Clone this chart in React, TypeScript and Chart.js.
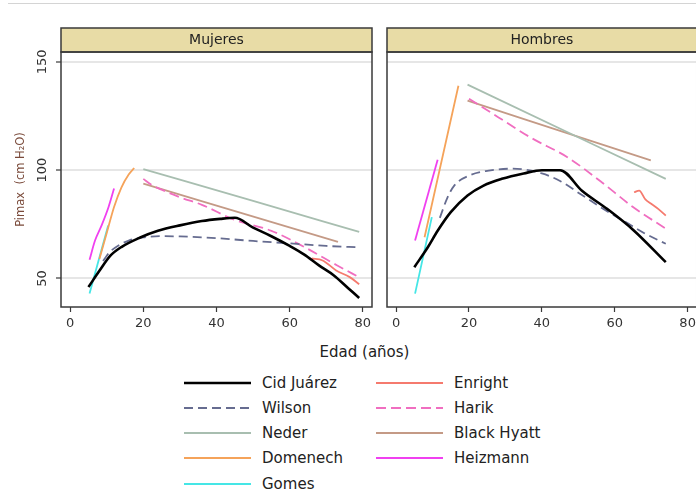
import React, { useEffect, useRef } from "react";
import { Chart, registerables } from "chart.js";

Chart.register(...registerables);

// ---------- data ----------
const seriesNames = ["Cid Juárez", "Wilson", "Neder", "Domenech", "Gomes", "Enright", "Harik", "Black Hyatt", "Heizmann"];
const panelTitles = ["Mujeres", "Hombres"];
const xTickValues = [0, 20, 40, 60, 80];
const yTickValues = [50, 100, 150];
const xAxisTitle = "Edad (años)";
const yAxisTitle = "Pimax  (cm H₂O)";

// Mujeres
const cidMujAge = [5, 8, 11, 14, 19, 24, 30, 36, 41, 45, 50, 55, 60, 64, 68, 72, 76, 79];
const cidMujVal = [46, 53.5, 60.5, 64.5, 68.8, 72, 74.5, 76.5, 77.5, 78, 73.5, 69.5, 65, 61, 56, 51.5, 45.5, 41];
const wilsonMujAge = [9, 10, 11, 13, 16, 20, 25, 30, 40, 50, 60, 70, 79];
const wilsonMujVal = [58, 60.5, 62.5, 65, 67.5, 69, 69.5, 69.4, 68.6, 67.3, 66.2, 65, 64.4];
const nederMujAge = [20, 50, 79];
const nederMujVal = [100.5, 85.8, 71.5];
const domenechMujAge = [8, 10, 12, 14, 16, 17.5];
const domenechMujVal = [59, 71, 83, 92, 98, 101];
const gomesMujAge = [5.3, 10.4];
const gomesMujVal = [43, 74.5];
const enrightMujAge = [66, 69, 72.7, 76.4, 79];
const enrightMujVal = [59.2, 58.3, 53.7, 50.6, 47.3];
const harikMujAge = [20, 22, 25, 30, 36, 45, 55, 64, 73, 79];
const harikMujVal = [96, 93.5, 91, 87.5, 84, 77, 72, 64.5, 56, 50.5];
const blackHyattMujAge = [20, 73.2];
const blackHyattMujVal = [93.8, 66.9];
const heizmannMujAge = [5.3, 6.8, 8.6, 10.5, 12];
const heizmannMujVal = [58.6, 67.5, 74.5, 83, 91.5];

// Hombres
const cidHomAge = [5, 8.7, 11.4, 15, 19.6, 24, 29, 35, 40, 45, 51, 58, 65, 74];
const cidHomVal = [55.2, 64.4, 72, 80.6, 88.3, 92.9, 96, 98.5, 100, 100, 90.5, 82, 72.5, 57.5];
const wilsonHomAge = [12, 14, 16, 20, 25, 32, 40, 45, 51, 57, 63, 68, 74];
const wilsonHomVal = [78, 87, 93, 97.5, 99.7, 100.7, 98.5, 95, 88.5, 82, 76, 71, 66];
const nederHomAge = [19.6, 74];
const nederHomVal = [139.5, 96];
const domenechHomAge = [7.8, 17.1];
const domenechHomVal = [69, 139];
const gomesHomAge = [5.2, 9.8];
const gomesHomVal = [43, 78.3];
const enrightHomAge = [65.3, 66.7, 68.4, 70, 72, 74];
const enrightHomVal = [89.8, 90.6, 86.5, 84.5, 82, 79];
const harikHomAge = [20, 28, 37, 47, 56, 65, 74];
const harikHomVal = [133, 124.5, 115, 106, 95, 83, 73];
const blackHyattHomAge = [19.6, 69.9];
const blackHyattHomVal = [132.1, 104.5];
const heizmannHomAge = [5.2, 11.4];
const heizmannHomVal = [67.5, 104.8];

const mujeresSeries = [
  [cidMujAge, cidMujVal], [wilsonMujAge, wilsonMujVal], [nederMujAge, nederMujVal],
  [domenechMujAge, domenechMujVal], [gomesMujAge, gomesMujVal], [enrightMujAge, enrightMujVal],
  [harikMujAge, harikMujVal], [blackHyattMujAge, blackHyattMujVal], [heizmannMujAge, heizmannMujVal],
];
const hombresSeries = [
  [cidHomAge, cidHomVal], [wilsonHomAge, wilsonHomVal], [nederHomAge, nederHomVal],
  [domenechHomAge, domenechHomVal], [gomesHomAge, gomesHomVal], [enrightHomAge, enrightHomVal],
  [harikHomAge, harikHomVal], [blackHyattHomAge, blackHyattHomVal], [heizmannHomAge, heizmannHomVal],
];

// ---------- styles ----------
const seriesColors = ["#000000", "#666c90", "#a8beb0", "#f5a35a", "#45e6e6", "#f57a6e", "#f06ec0", "#c49a86", "#f040f0"];
const seriesWidths = [2.6, 1.8, 1.8, 1.8, 1.8, 1.8, 1.8, 1.8, 1.8];
const seriesDashes: number[][] = [[], [9, 5], [], [], [], [], [10, 5], [], []];

const FONT = "DejaVu Sans";
const STRIP_H = 24;
const FRAME = "#3a3a3a";

const framePlugin = {
  id: "panelFrame",
  beforeDraw(chart: any) {
    const { ctx, chartArea: a } = chart;
    ctx.save();
    ctx.fillStyle = "#e8dca6";
    ctx.fillRect(a.left, a.top - STRIP_H, a.right - a.left, STRIP_H);
    ctx.restore();
  },
  afterDraw(chart: any) {
    const { ctx, chartArea: a } = chart;
    ctx.save();
    ctx.strokeStyle = FRAME;
    ctx.lineWidth = 1.5;
    ctx.strokeRect(a.left, a.top - STRIP_H, a.right - a.left, STRIP_H);
    ctx.strokeRect(a.left, a.top, a.right - a.left, a.bottom - a.top);
    ctx.restore();
  },
};

function buildConfig(panelIndex: number): any {
  const list = panelIndex === 0 ? mujeresSeries : hombresSeries;
  const isLeft = panelIndex === 0;
  const datasets = list.map(([ages, vals], i) => ({
    label: seriesNames[i],
    data: ages.map((a, k) => ({ x: a, y: vals[k] })),
    borderColor: seriesColors[i],
    borderWidth: seriesWidths[i],
    borderDash: seriesDashes[i],
    pointRadius: 0,
    fill: false,
    cubicInterpolationMode: "monotone",
  }));
  return {
    type: "line",
    data: { datasets },
    plugins: [framePlugin],
    options: {
      animation: false,
      responsive: false,
      devicePixelRatio: 1,
      layout: { padding: { top: 28, left: 0, right: isLeft ? 8 : 2, bottom: 3 } },
      plugins: {
        legend: { display: false },
        tooltip: { enabled: false },
        title: {
          display: true,
          text: panelTitles[panelIndex],
          fullSize: false,
          color: "#222",
          font: { family: FONT, size: 14, weight: "normal", lineHeight: 1.2 },
          padding: { top: 4, bottom: 3.2 },
        },
      },
      scales: {
        x: {
          type: "linear",
          min: -2.5,
          max: 82.5,
          afterBuildTicks: (s: any) => { s.ticks = xTickValues.map((v) => ({ value: v })); },
          afterFit: (s: any) => { s.height = 30; },
          grid: { drawOnChartArea: false, drawTicks: true, tickLength: 5, tickColor: FRAME, tickWidth: 1.2 },
          border: { display: false },
          ticks: { minRotation: 0, maxRotation: 0, padding: 4, color: "#333", font: { family: FONT, size: 13 } },
        },
        y: {
          type: "linear",
          min: 36.8,
          max: 154.6,
          afterBuildTicks: (s: any) => { s.ticks = yTickValues.map((v) => ({ value: v })); },
          afterFit: (s: any) => { s.width = isLeft ? 61 : 7; },
          grid: {
            color: "#e6e6e6",
            lineWidth: 2,
            drawTicks: isLeft,
            tickLength: 5,
            tickColor: FRAME,
            tickWidth: 1.2,
          },
          border: { display: false },
          ticks: {
            display: isLeft,
            minRotation: 90,
            maxRotation: 90,
            crossAlign: "center",
            padding: 1,
            color: "#333",
            font: { family: FONT, size: 13 },
          },
          title: {
            display: isLeft,
            text: yAxisTitle,
            color: "#7a4a3a",
            font: { family: FONT, size: 11.5 },
            padding: { top: 14, bottom: 0 },
          },
        },
      },
    },
  };
}

const legendRowY = [383, 408.3, 433, 458.3, 484];

function LegendItem({ index, col, row }: { index: number; col: number; row: number }) {
  const lineLeft = col === 0 ? 184 : 376;
  const textLeft = col === 0 ? 262 : 454;
  const y = legendRowY[row];
  const dash = seriesDashes[index].length ? seriesDashes[index].join(",") : undefined;
  return (
    <>
      <svg style={{ position: "absolute", left: lineLeft, top: y - 5, width: 68, height: 10 }} width={68} height={10}>
        <line x1={0} y1={5} x2={67} y2={5} stroke={seriesColors[index]} strokeWidth={seriesWidths[index]} strokeDasharray={dash} />
      </svg>
      <div
        style={{
          position: "absolute",
          left: textLeft,
          top: y - 10,
          height: 20,
          lineHeight: "20px",
          fontFamily: FONT,
          fontSize: 15,
          color: "#222",
          whiteSpace: "nowrap",
        }}
      >
        {seriesNames[index]}
      </div>
    </>
  );
}

export default function App() {
  const leftRef = useRef<HTMLCanvasElement>(null);
  const rightRef = useRef<HTMLCanvasElement>(null);

  useEffect(() => {
    const c1 = new Chart(leftRef.current as HTMLCanvasElement, buildConfig(0));
    const c2 = new Chart(rightRef.current as HTMLCanvasElement, buildConfig(1));
    return () => {
      c1.destroy();
      c2.destroy();
    };
  }, []);

  return (
    <div style={{ position: "absolute", left: 0, top: 0, width: 696, height: 496, overflow: "hidden", background: "#fff" }}>
      <div style={{ position: "absolute", left: 8, right: 0, top: 3, height: 1, background: "#d4d4d4" }} />
      <canvas ref={leftRef} width={380} height={340} style={{ position: "absolute", left: 0, top: 0, width: 380, height: 340 }} />
      <canvas ref={rightRef} width={320} height={340} style={{ position: "absolute", left: 380, top: 0, width: 320, height: 340 }} />
      <div
        style={{
          position: "absolute",
          left: 364.5,
          top: 352,
          transform: "translate(-50%, -50%)",
          fontFamily: FONT,
          fontSize: 15,
          color: "#222",
          whiteSpace: "nowrap",
        }}
      >
        {xAxisTitle}
      </div>
      {seriesNames.map((_, i) => (
        <LegendItem key={i} index={i} col={i < 5 ? 0 : 1} row={i < 5 ? i : i - 5} />
      ))}
    </div>
  );
}
